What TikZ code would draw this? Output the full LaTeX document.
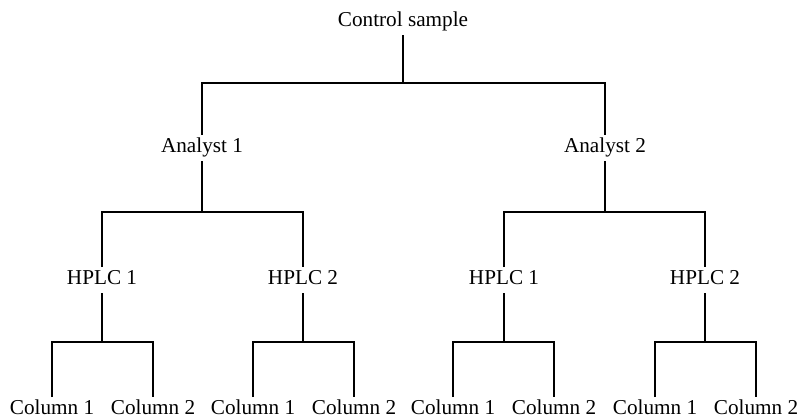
\documentclass[tikz,border=0pt]{standalone}
\usepackage{fontspec}
\setmainfont{Liberation Serif}

\begin{document}
\begin{tikzpicture}[x=0.5pt, y=-0.5pt, line width=1.4pt,
	every node/.style={font=\fontsize{10.6}{12}\selectfont, text height=0.72em, text depth=0.25em, inner xsep=2pt, inner ysep=1pt, anchor=base}]
	\useasboundingbox (0,0) rectangle (799,417);
	% labels
	\node (ctrl) at (403,27) {Control sample};
	\node (an1) at (202,153) {Analyst 1};
	\node (an2) at (605,153) {Analyst 2};
	\node (h1) at (102,285) {HPLC 1};
	\node (h2) at (303,285) {HPLC 2};
	\node (h3) at (504,285) {HPLC 1};
	\node (h4) at (705,285) {HPLC 2};
	\node (c1) at (52,415) {Column 1};
	\node (c2) at (153,415) {Column 2};
	\node (c3) at (253,415) {Column 1};
	\node (c4) at (354,415) {Column 2};
	\node (c5) at (453,415) {Column 1};
	\node (c6) at (554,415) {Column 2};
	\node (c7) at (655,415) {Column 1};
	\node (c8) at (756,415) {Column 2};
	% junctions
	\coordinate (j0) at (403,83);
	\coordinate (ja1) at (202,212); \coordinate (ja2) at (605,212);
	\coordinate (jh1) at (102,342); \coordinate (jh2) at (303,342);
	\coordinate (jh3) at (504,342); \coordinate (jh4) at (705,342);
	% branches
	\foreach \p/\j in {ctrl/j0, an1/ja1, an2/ja2, h1/jh1, h2/jh2, h3/jh3, h4/jh4}
		\draw (\p.south) -- (\j);
	\foreach \j/\l/\r in {j0/an1/an2, ja1/h1/h2, ja2/h3/h4, jh1/c1/c2, jh2/c3/c4, jh3/c5/c6, jh4/c7/c8}
		\draw (\l.north) |- (\j) -| (\r.north);
\end{tikzpicture}
\end{document}
